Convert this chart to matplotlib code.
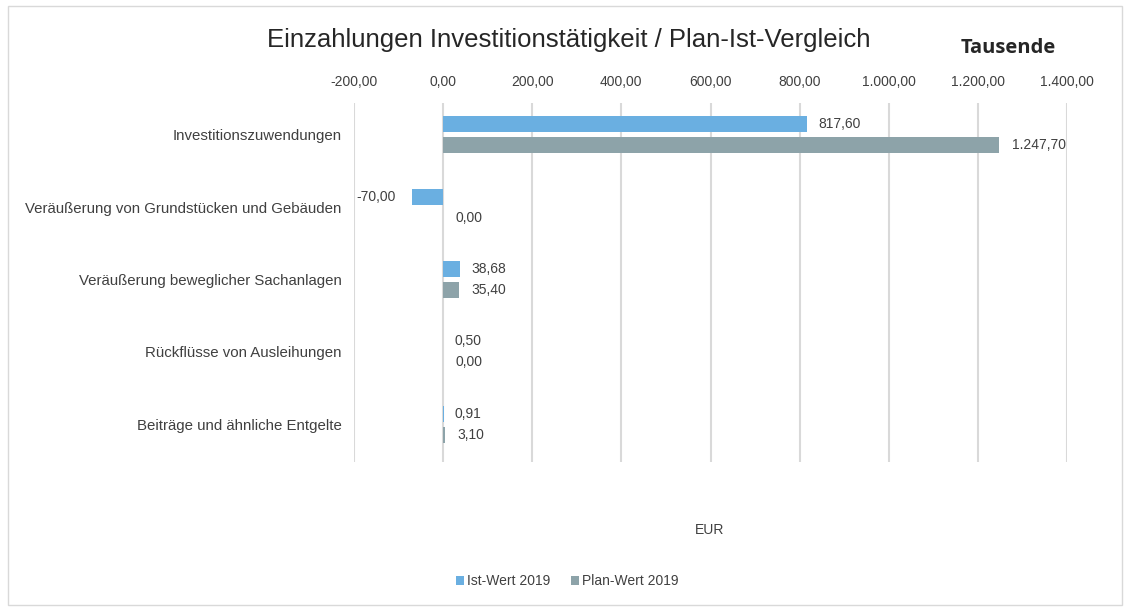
import numpy as np
import matplotlib.pyplot as plt
from matplotlib.patches import Rectangle

plt.rcParams['font.family'] = ['Liberation Sans', 'DejaVu Sans']

# Daten (Tausend EUR)
kategorien = ['Investitionszuwendungen',
              'Veräußerung von Grundstücken und Gebäuden',
              'Veräußerung beweglicher Sachanlagen',
              'Rückflüsse von Ausleihungen',
              'Beiträge und ähnliche Entgelte']
ist_2019 = [817.60, -70.00, 38.68, 0.50, 0.91]
plan_2019 = [1247.70, 0.00, 35.40, 0.00, 3.10]
x_ticks = [-200, 0, 200, 400, 600, 800, 1000, 1200, 1400]

farbe_ist = '#6aafe1'
farbe_plan = '#8da3a9'
text_farbe = '#404040'


def de_format(v):
    s = f'{v:,.2f}'
    return s.replace(',', 'X').replace('.', ',').replace('X', '.')


fig = plt.figure(figsize=(11.29, 6.11), dpi=100)
ax = fig.add_axes([354/1129, 1-462/611, (1067-354)/1129, (462-103)/611])

y = np.arange(len(kategorien))
h = 0.22
off = 0.145
ax.barh(y - off, ist_2019, height=h, color=farbe_ist, label='Ist-Wert 2019')
ax.barh(y + off, plan_2019, height=h, color=farbe_plan, label='Plan-Wert 2019')

for yi, v in zip(y - off, ist_2019):
    if v < 0:
        ax.annotate(de_format(v), (v, yi), xytext=(-12, 0), textcoords='offset points',
                    ha='right', va='center', fontsize=10, color=text_farbe)
    else:
        ax.annotate(de_format(v), (v, yi), xytext=(8, 0), textcoords='offset points',
                    ha='left', va='center', fontsize=10, color=text_farbe)
for yi, v in zip(y + off, plan_2019):
    ax.annotate(de_format(v), (max(v, 0), yi), xytext=(9, 0), textcoords='offset points',
                ha='left', va='center', fontsize=10, color=text_farbe)

ax.set_xlim(-200, 1400)
ax.set_ylim(4.52, -0.44)
ax.set_xticks(x_ticks)
ax.set_xticklabels([de_format(t) for t in x_ticks])
ax.xaxis.tick_top()
ax.tick_params(axis='x', length=0, pad=10, labelsize=10, labelcolor=text_farbe)
ax.set_yticks(y)
ax.set_yticklabels(kategorien)
ax.tick_params(axis='y', length=0, pad=9, labelsize=10.8, labelcolor=text_farbe)
ax.grid(axis='x', color='#d9d9d9', linewidth=1.5)
ax.set_axisbelow(True)
for s in ax.spines.values():
    s.set_visible(False)

fig.text(569/1129, 1-40/611, 'Einzahlungen Investitionstätigkeit / Plan-Ist-Vergleich',
         ha='center', va='center', fontsize=18.5, color='#262626')
fig.text(1008/1129, 1-48/611, 'Tausende', ha='center', va='center',
         fontsize=14.5, fontweight='bold', family=['Open Sans', 'DejaVu Sans'], color='#262626')
fig.text(710/1129, 1-530/611, 'EUR', ha='center', va='center', fontsize=10, color=text_farbe)

fig.legend(loc='center', bbox_to_anchor=(567/1129, 1-581/611), ncol=2, frameon=False,
           fontsize=10, handlelength=0.6, handleheight=0.6, handletextpad=0.2,
           columnspacing=1.5, labelcolor=text_farbe)

fig.patches.append(Rectangle((8/1129, 6/611), 1114/1129, 599/611, transform=fig.transFigure,
                             fill=False, edgecolor='#d9d9d9', linewidth=1))

fig.savefig('out.png', dpi=100)
